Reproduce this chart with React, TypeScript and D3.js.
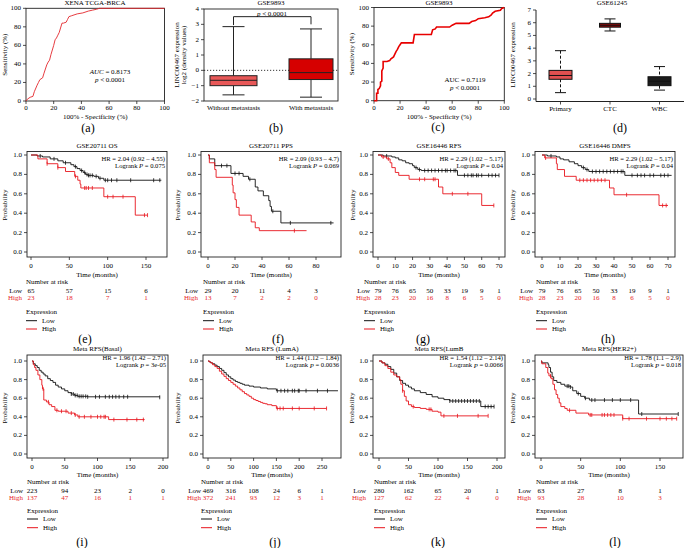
import React from 'react';
import * as d3 from 'd3';

type Pt = [number, number];

const FONT = "'Liberation Serif', 'DejaVu Serif', serif";
const RED = '#e8141c';
const RED_TXT = '#e8262b';

// ---------- (a) ROC XENA TCGA-BRCA ----------
const rocA_fpr = [0, 1, 3, 5, 6, 8, 9, 10, 12, 13, 15, 16, 17, 18, 19, 20, 21, 22, 23, 24, 26, 27, 29, 30, 31, 33, 37, 41, 45, 48, 51, 53, 100];
const rocA_tpr = [0, 2, 4, 5, 10, 17, 20, 23, 25, 30, 39, 42, 44, 50, 55, 60, 66, 68, 71, 74, 84, 84, 85, 88, 91, 92, 94, 95, 97, 98, 99, 100, 100];

// ---------- (c) ROC GSE9893 ----------
const rocC_fpr = [0, 2, 2, 3, 3, 4, 5, 5, 6, 6, 7, 7, 10, 12, 13, 15, 16, 17, 18, 19, 20, 21, 30, 31, 44, 45, 47, 48, 58, 60, 63, 73, 75, 78, 80, 85, 88, 90, 91, 93, 97, 98, 100];
const rocC_tpr = [0, 0, 8, 8, 12, 13, 16, 20, 21, 32, 35, 42, 42, 43, 45, 47, 50, 53, 55, 58, 60, 62, 62, 71, 71, 76, 77, 79, 79, 81, 83, 83, 85, 86, 88, 89, 90, 92, 94, 96, 97, 99, 100];

// ---------- (b) box GSE9893 ----------
const boxB_cats = ['Without metastasis', 'With metastasis'];
const boxB_min = [-1.6, -1.75];
const boxB_q1 = [-1.0, -0.6];
const boxB_med = [-0.65, -0.15];
const boxB_q3 = [-0.35, 0.75];
const boxB_max = [2.85, 2.7];
const boxB_ticks = [-2, -1, 0, 1, 2, 3, 4];

// ---------- (d) box GSE61245 ----------
const boxD_cats = ['Primary', 'CTC', 'WBC'];
const boxD_min = [0.5, 5.35, 0.7];
const boxD_q1 = [1.55, 5.65, 1.05];
const boxD_med = [1.85, 5.8, 1.4];
const boxD_q3 = [2.25, 5.95, 1.75];
const boxD_max = [3.8, 6.3, 2.55];
const boxD_ticks = [0, 1, 2, 3, 4, 5, 6, 7];

// ---------- Kaplan-Meier curves ----------
const eLow: Pt[] = [[0, 1], [8, 0.99], [15, 0.98], [25, 0.96], [35, 0.94], [42, 0.92], [52, 0.9], [56, 0.88], [60, 0.86], [64, 0.84], [68, 0.82], [71, 0.8], [74, 0.79], [82, 0.78], [88, 0.76], [95, 0.74], [170, 0.74]];
const eLowC = [12, 30, 45, 58, 66, 70, 73, 75, 77, 80, 85, 90, 97, 100, 105, 112, 130, 160, 168];
const eHigh: Pt[] = [[0, 1], [9, 0.96], [21, 0.91], [35, 0.87], [45, 0.83], [57, 0.78], [61, 0.74], [64, 0.7], [65, 0.66], [95, 0.57], [136, 0.38], [152, 0.38]];
const eHighC = [21, 35, 58, 70, 72, 75, 80, 100, 107, 120, 148, 152];

const fLow: Pt[] = [[0, 1], [1, 0.96], [5, 0.89], [17, 0.81], [26, 0.78], [30, 0.75], [35, 0.67], [37, 0.63], [41, 0.58], [45, 0.53], [46, 0.47], [47, 0.42], [54, 0.3], [93, 0.3]];
const fLowC = [10, 14, 20, 23, 31, 48, 61, 91];
const fHigh: Pt[] = [[0, 1], [1, 0.92], [5, 0.85], [6, 0.77], [18, 0.69], [18.6, 0.61], [20, 0.54], [21, 0.46], [23, 0.38], [32, 0.31], [35, 0.25], [38, 0.22], [73, 0.22]];
const fHighC = [64];

const gLow: Pt[] = [[0, 1], [3, 0.99], [8, 0.98], [10, 0.97], [12, 0.95], [14, 0.94], [16, 0.92], [18, 0.91], [20, 0.89], [21, 0.87], [23, 0.85], [25, 0.84], [46, 0.79], [70, 0.79]];
const gLowC = [5, 22, 24, 27, 29, 31, 33, 35, 37, 39, 40, 42, 44, 45, 50, 52, 54, 55, 57, 58, 60, 64, 66, 68, 70];
const gHigh: Pt[] = [[0, 1], [2, 0.98], [5, 0.96], [7, 0.92], [8, 0.87], [10, 0.82], [12, 0.79], [18, 0.75], [35, 0.67], [37.5, 0.6], [60, 0.48], [67, 0.48]];
const gHighC = [3, 6, 24, 27, 32, 33, 43, 52, 67];

const hLow: Pt[] = [[0, 1], [3, 0.99], [8, 0.98], [10, 0.96], [12, 0.95], [15, 0.93], [18, 0.91], [20, 0.89], [22, 0.87], [24, 0.85], [26, 0.83], [46, 0.79], [72, 0.79]];
const hLowC = [5, 23, 25, 28, 30, 32, 34, 36, 38, 40, 42, 44, 45, 50, 53, 55, 57, 60, 62, 66, 68, 70];
const hHigh: Pt[] = [[0, 1], [1.5, 0.97], [8, 0.91], [8.5, 0.85], [12.5, 0.78], [19, 0.74], [37.5, 0.66], [40, 0.59], [65, 0.48], [70, 0.48]];
const hHighC = [2, 21, 23, 25, 27, 29, 31, 33, 35, 47, 67, 69];

const iLow: Pt[] = [[0, 1], [2, 0.97], [5, 0.95], [8, 0.93], [11, 0.9], [14, 0.88], [17, 0.86], [20, 0.84], [24, 0.81], [28, 0.79], [32, 0.77], [36, 0.74], [40, 0.72], [45, 0.7], [50, 0.68], [55, 0.66], [60, 0.645], [65, 0.63], [70, 0.62], [85, 0.615], [195, 0.61]];
const iLowC = [60, 63, 66, 69, 72, 75, 78, 82, 85, 97, 103, 112, 118, 123, 128, 133, 140, 146, 195];
const iHigh: Pt[] = [[0, 1], [2, 0.96], [4, 0.93], [6, 0.9], [9, 0.85], [12, 0.8], [15, 0.74], [16, 0.7], [18, 0.58], [22, 0.56], [26, 0.53], [30, 0.51], [35, 0.47], [40, 0.46], [55, 0.44], [65, 0.42], [70, 0.4], [117, 0.37], [172, 0.37]];
const iHighC = [17, 25, 38, 45, 52, 60, 66, 72, 80, 90, 100, 105, 110, 112, 125, 145, 160, 170];

const jLow: Pt[] = [[0, 1], [3, 0.99], [6, 0.98], [10, 0.97], [15, 0.955], [20, 0.94], [25, 0.92], [30, 0.9], [35, 0.875], [40, 0.85], [45, 0.83], [50, 0.81], [55, 0.795], [60, 0.78], [65, 0.77], [70, 0.76], [75, 0.75], [80, 0.74], [90, 0.73], [100, 0.72], [115, 0.71], [130, 0.7], [150, 0.68], [285, 0.68]];
const jLowC = [152, 160, 168, 175, 185, 190, 198, 200, 215, 240, 262];
const jHigh: Pt[] = [[0, 1], [3, 0.99], [6, 0.98], [10, 0.96], [15, 0.94], [20, 0.92], [25, 0.89], [30, 0.86], [35, 0.835], [40, 0.81], [45, 0.79], [50, 0.77], [55, 0.75], [60, 0.73], [65, 0.71], [70, 0.69], [75, 0.67], [80, 0.65], [85, 0.635], [90, 0.62], [95, 0.6], [100, 0.585], [105, 0.575], [110, 0.565], [115, 0.555], [120, 0.545], [125, 0.54], [130, 0.53], [140, 0.52], [149, 0.52], [150, 0.49], [260, 0.49]];
const jHighC = [152, 158, 165, 185, 200, 233, 260];

const kLow: Pt[] = [[0, 1], [5, 0.98], [10, 0.965], [15, 0.94], [20, 0.91], [25, 0.87], [30, 0.83], [35, 0.79], [40, 0.76], [45, 0.74], [50, 0.72], [55, 0.7], [60, 0.68], [70, 0.66], [80, 0.64], [90, 0.615], [100, 0.6], [110, 0.585], [120, 0.57], [172, 0.57], [172.5, 0.51], [195, 0.51]];
const kLowC = [120, 125, 130, 135, 140, 145, 150, 155, 160, 165, 170, 180, 185, 190, 195];
const kHigh: Pt[] = [[0, 1], [5, 0.98], [10, 0.95], [15, 0.92], [20, 0.88], [25, 0.85], [30, 0.83], [35, 0.8], [37, 0.75], [40, 0.68], [43, 0.62], [46, 0.57], [50, 0.53], [55, 0.51], [60, 0.5], [70, 0.49], [80, 0.48], [90, 0.46], [100, 0.45], [105, 0.41], [185, 0.41]];
const kHighC = [40, 58, 85, 88, 110, 133, 168, 185];

const lLow: Pt[] = [[0, 1], [1, 0.98], [9, 0.96], [10, 0.93], [12, 0.88], [14, 0.83], [16, 0.79], [20, 0.77], [25, 0.75], [30, 0.73], [37, 0.72], [40, 0.68], [45, 0.65], [50, 0.62], [55, 0.6], [61, 0.58], [122.5, 0.58], [123, 0.43], [173, 0.43]];
const lLowC = [33, 35, 37, 47, 56, 64, 68, 80, 90, 100, 113, 127, 173];
const lHigh: Pt[] = [[0, 1], [1, 0.97], [6, 0.93], [8.5, 0.87], [10, 0.84], [12.7, 0.81], [15, 0.75], [17, 0.69], [19, 0.64], [21, 0.6], [23, 0.55], [25, 0.51], [30, 0.49], [33, 0.47], [44, 0.44], [60, 0.42], [103, 0.38], [171, 0.38]];
const lHighC = [12, 36, 62, 64, 77, 80, 84, 88, 92, 103, 111, 133, 150, 158, 165, 171];

// number at risk
const eTimes = [0, 50, 100, 150]; const eNLow = [65, 57, 15, 6]; const eNHigh = [23, 18, 7, 1];
const fTimes = [0, 20, 40, 60, 80]; const fNLow = [29, 20, 11, 4, 3]; const fNHigh = [13, 7, 2, 2, 0];
const gTimes = [0, 10, 20, 30, 40, 50, 60, 70]; const gNLow = [79, 76, 65, 50, 33, 19, 9, 1]; const gNHigh = [28, 23, 20, 16, 8, 6, 5, 0];
const hTimes = [0, 10, 20, 30, 40, 50, 60, 70]; const hNLow = [79, 76, 65, 50, 33, 19, 9, 1]; const hNHigh = [28, 23, 20, 16, 8, 6, 5, 0];
const iTimes = [0, 50, 100, 150, 200]; const iNLow = [223, 94, 23, 2, 0]; const iNHigh = [137, 47, 16, 1, 1];
const jTimes = [0, 50, 100, 150, 200, 250]; const jNLow = [469, 316, 108, 24, 6, 1]; const jNHigh = [372, 241, 93, 12, 3, 1];
const kTimes = [0, 50, 100, 150, 200]; const kNLow = [280, 162, 65, 20, 1]; const kNHigh = [127, 62, 22, 4, 0];
const lTimes = [0, 50, 100, 150]; const lNLow = [63, 27, 8, 1]; const lNHigh = [93, 28, 10, 3];

const yTicksKM = [0, 0.2, 0.4, 0.6, 0.8, 1.0];

// ---------- layout (positions only) ----------
const row2 = { fy0: 151.5, fy1: 257, y1px: 155, y0px: 252, title: 146, hr: 158, lr: 165.3, tick: 265.5, time: 274.7, nar: 282, low: 290.7, high: 298.2, expr: 312, legLow: 320.7, legHigh: 329, letter: 339, prob: 205 };
const row3 = { fy0: 355, fy1: 458, y1px: 361, y0px: 454, title: 348.5, hr: 357.8, lr: 364.8, tick: 467, time: 475, nar: 481.7, low: 490.7, high: 498.3, expr: 510.7, legLow: 519, legHigh: 527.7, letter: 542, prob: 408 };

const FS = 7;

const T = (p: any) => {
  const { x, y, size = FS, anchor = 'middle', fill = '#000', rotate, children, italic, weight } = p;
  return (
    <text x={x} y={y} fontSize={size} textAnchor={anchor} dominantBaseline="central" fill={fill}
      fontFamily={FONT} fontStyle={italic ? 'italic' : undefined} fontWeight={weight}
      transform={rotate ? `rotate(${rotate} ${x} ${y})` : undefined}>{children}</text>
  );
};

function stepAt(curve: Pt[], t: number) {
  let s = curve[0][1];
  for (const [tt, ss] of curve) { if (tt <= t) s = ss; else break; }
  return s;
}

// ---------- ROC ----------
function Roc(props: any) {
  const { fpr, tpr, x0, x1, y0, y1, title, titleX, ylabX, auc, aucItalic, aucX, aucY, letter, letterX, letterY, color, sw } = props;
  const xs = d3.scaleLinear().domain([0, 100]).range([x0, x1]);
  const ys = d3.scaleLinear().domain([0, 100]).range([y0, y1]);
  const pts: Pt[] = fpr.map((f: number, i: number) => [f, tpr[i]]);
  const line = d3.line<Pt>().x(d => xs(d[0])).y(d => ys(d[1]));
  const ticks = [0, 20, 40, 60, 80, 100];
  return (
    <g>
      <T x={titleX} y={3}>{title}</T>
      <rect x={x0} y={y1} width={x1 - x0} height={y0 - y1} fill="none" stroke="#222" strokeWidth={0.9} />
      {ticks.map(t => (
        <g key={'x' + t}>
          <line x1={xs(t)} x2={xs(t)} y1={y0} y2={y0 + 3} stroke="#222" strokeWidth={0.8} />
          <T x={xs(t)} y={108}>{t}</T>
          <line x1={x0 - 3} x2={x0} y1={ys(t)} y2={ys(t)} stroke="#222" strokeWidth={0.8} />
          <T x={x0 - 5} y={ys(t)} anchor="end">{t}</T>
        </g>
      ))}
      <path d={line(pts) || ''} fill="none" stroke={color} strokeWidth={sw} />
      <T x={ylabX} y={(y0 + y1) / 2} rotate={-90}>Sensitivity (%)</T>
      <T x={(x0 + x1) / 2} y={117}>100% - Specificity (%)</T>
      <text x={aucX} y={aucY} fontSize={FS} textAnchor="middle" dominantBaseline="central" fontFamily={FONT}>
        <tspan fontStyle={aucItalic ? 'italic' : undefined}>AUC</tspan> = {auc}
      </text>
      <text x={aucX} y={aucY + 8.5} fontSize={FS} textAnchor="middle" dominantBaseline="central" fontFamily={FONT}>
        <tspan fontStyle="italic">p</tspan> {'< 0.0001'}
      </text>
      <T x={letterX} y={letterY} size={12}>{letter}</T>
    </g>
  );
}

// ---------- Box (b) ----------
function BoxB() {
  const x0 = 204, x1 = 338;
  const ys = d3.scaleLinear().domain([-2, 4]).range([101, 9]);
  const centers = [233.5, 311];
  const fills = ['#e85858', '#d60000'];
  const bw = [47, 44];
  return (
    <g>
      <T x={271} y={3}>GSE9893</T>
      <rect x={x0} y={ys(4)} width={x1 - x0} height={ys(-2) - ys(4)} fill="none" stroke="#222" strokeWidth={0.9} />
      {boxB_ticks.map(t => (
        <g key={t}>
          <line x1={x0 - 3} x2={x0} y1={ys(t)} y2={ys(t)} stroke="#222" strokeWidth={0.8} />
          <T x={x0 - 5} y={ys(t)} anchor="end">{t < 0 ? '−' + Math.abs(t) : t}</T>
        </g>
      ))}
      <line x1={x0} x2={x1} y1={ys(0)} y2={ys(0)} stroke="#222" strokeWidth={0.9} strokeDasharray="1.2,1.8" />
      {boxB_cats.map((c, i) => {
        const cx = centers[i], w = bw[i];
        return (
          <g key={c}>
            <line x1={cx} x2={cx} y1={ys(boxB_max[i])} y2={ys(boxB_q3[i])} stroke="#222" strokeWidth={1} />
            <line x1={cx} x2={cx} y1={ys(boxB_q1[i])} y2={ys(boxB_min[i])} stroke="#222" strokeWidth={1} />
            <line x1={cx - 11} x2={cx + 11} y1={ys(boxB_max[i])} y2={ys(boxB_max[i])} stroke="#222" strokeWidth={1} />
            <line x1={cx - 11} x2={cx + 11} y1={ys(boxB_min[i])} y2={ys(boxB_min[i])} stroke="#222" strokeWidth={1} />
            <rect x={cx - w / 2} y={ys(boxB_q3[i])} width={w} height={ys(boxB_q1[i]) - ys(boxB_q3[i])} fill={fills[i]} stroke="#222" strokeWidth={1} />
            <line x1={cx - w / 2} x2={cx + w / 2} y1={ys(boxB_med[i])} y2={ys(boxB_med[i])} stroke="#222" strokeWidth={1} />
            <T x={cx} y={108}>{c}</T>
          </g>
        );
      })}
      <path d={`M${centers[0]},${ys(2.95)}V${ys(3.5)}H${centers[1]}V${ys(3.0)}`} fill="none" stroke="#222" strokeWidth={1} />
      <text x={272} y={14} fontSize={FS} textAnchor="middle" dominantBaseline="central" fontFamily={FONT}>
        <tspan fontStyle="italic">p</tspan> {'< 0.0001'}
      </text>
      <T x={176.5} y={55} rotate={-90}>LINC00467 expression</T>
      <T x={183.5} y={55} rotate={-90}>log2 (density values)</T>
      <T x={276} y={128} size={12}>(b)</T>
    </g>
  );
}

// ---------- Box (d) ----------
function BoxD() {
  const ax = 536, ay = 101.5;
  const ys = d3.scaleLinear().domain([0, 7]).range([99, 10]);
  const xs = d3.scalePoint<string>().domain(boxD_cats).range([560.5, 659.5]);
  const fills = ['#e05050', '#8e0a0a', '#1c1c1c'];
  const widths = [23, 21, 23];
  const dashed = [true, false, true];
  return (
    <g>
      <T x={612} y={3}>GSE61245</T>
      <line x1={ax} x2={ax} y1={ys(7)} y2={ay} stroke="#222" strokeWidth={1} />
      <line x1={ax} x2={684} y1={ay} y2={ay} stroke="#222" strokeWidth={1} />
      {boxD_ticks.map(t => (
        <g key={t}>
          <line x1={ax - 3} x2={ax} y1={ys(t)} y2={ys(t)} stroke="#222" strokeWidth={0.8} />
          <T x={ax - 5} y={ys(t)} anchor="end">{t}</T>
        </g>
      ))}
      {boxD_cats.map((c, i) => {
        const cx = xs(c) as number, w = widths[i];
        const da = dashed[i] ? '3,2' : undefined;
        return (
          <g key={c}>
            <line x1={cx} x2={cx} y1={ay} y2={ay + 3} stroke="#222" strokeWidth={0.8} />
            <line x1={cx} x2={cx} y1={ys(boxD_max[i])} y2={ys(boxD_q3[i])} stroke="#111" strokeWidth={1} strokeDasharray={da} />
            <line x1={cx} x2={cx} y1={ys(boxD_q1[i])} y2={ys(boxD_min[i])} stroke="#111" strokeWidth={1} strokeDasharray={da} />
            <line x1={cx - 5.5} x2={cx + 5.5} y1={ys(boxD_max[i])} y2={ys(boxD_max[i])} stroke="#111" strokeWidth={1} />
            <line x1={cx - 5.5} x2={cx + 5.5} y1={ys(boxD_min[i])} y2={ys(boxD_min[i])} stroke="#111" strokeWidth={1} />
            <rect x={cx - w / 2} y={ys(boxD_q3[i])} width={w} height={ys(boxD_q1[i]) - ys(boxD_q3[i])} fill={fills[i]} stroke="#111" strokeWidth={1} />
            <line x1={cx - w / 2} x2={cx + w / 2} y1={ys(boxD_med[i])} y2={ys(boxD_med[i])} stroke="#111" strokeWidth={1} />
            <T x={cx} y={108.5}>{c}</T>
          </g>
        );
      })}
      <T x={513} y={55} rotate={-90}>LINC00467 expression</T>
      <T x={620} y={128} size={12}>(d)</T>
    </g>
  );
}

// ---------- KM ----------
const kmPanels = [
  { id: 'e', row: row2, title: 'GSE20711 OS', hr: 'HR = 2.04 (0.92 – 4.55)', p: '0.075', low: eLow, lowC: eLowC, high: eHigh, highC: eHighC, times: eTimes, nLow: eNLow, nHigh: eNHigh, pos: { fx0: 27, fx1: 167, x0px: 31, refT: 150, refPx: 146, probX: 5, lh: 22, nar: 26, letterX: 85 } },
  { id: 'f', row: row2, title: 'GSE20711 PPS', hr: 'HR = 2.09 (0.93 – 4.7)', p: '0.069', low: fLow, lowC: fLowC, high: fHigh, highC: fHighC, times: fTimes, nLow: fNLow, nHigh: fNHigh, pos: { fx0: 201, fx1: 341, x0px: 208, refT: 80, refPx: 316, probX: 178, lh: 198, nar: 203, letterX: 278 } },
  { id: 'g', row: row2, title: 'GSE16446 RFS', hr: 'HR = 2.29 (1.02 – 5.17)', p: '0.04', low: gLow, lowC: gLowC, high: gHigh, highC: gHighC, times: gTimes, nLow: gNLow, nHigh: gNHigh, pos: { fx0: 373, fx1: 505, x0px: 378, refT: 70, refPx: 499, probX: 353, lh: 370, nar: 364, letterX: 423 } },
  { id: 'h', row: row2, title: 'GSE16446 DMFS', hr: 'HR = 2.29 (1.02 – 5.17)', p: '0.04', low: hLow, lowC: hLowC, high: hHigh, highC: hHighC, times: hTimes, nLow: hNLow, nHigh: hNHigh, pos: { fx0: 535, fx1: 675, x0px: 542, refT: 70, refPx: 668, probX: 513, lh: 533, nar: 536, letterX: 608 } },
  { id: 'i', row: row3, title: 'Meta RFS(Basal)', hr: 'HR = 1.96 (1.42 – 2.71)', p: '3e-05', low: iLow, lowC: iLowC, high: iHigh, highC: iHighC, times: iTimes, nLow: iNLow, nHigh: iNHigh, pos: { fx0: 27, fx1: 168, x0px: 32, refT: 200, refPx: 163, probX: 5, lh: 23, nar: 27, letterX: 82 } },
  { id: 'j', row: row3, title: 'Meta RFS (LumA)', hr: 'HR = 1.44 (1.12 – 1.84)', p: '0.0036', low: jLow, lowC: jLowC, high: jHigh, highC: jHighC, times: jTimes, nLow: jNLow, nHigh: jNHigh, pos: { fx0: 203, fx1: 341, x0px: 208, refT: 250, refPx: 322, probX: 178, lh: 201, nar: 201, letterX: 275 } },
  { id: 'k', row: row3, title: 'Meta RFS(LumB', hr: 'HR = 1.54 (1.12 – 2.14)', p: '0.0066', low: kLow, lowC: kLowC, high: kHigh, highC: kHighC, times: kTimes, nLow: kNLow, nHigh: kNHigh, pos: { fx0: 373, fx1: 505, x0px: 379, refT: 200, refPx: 497, probX: 352, lh: 366, nar: 374, letterX: 438 } },
  { id: 'l', row: row3, title: 'Meta RFS(HER2+)', hr: 'HR = 1.78 (1.1 – 2.9)', p: '0.018', low: lLow, lowC: lLowC, high: lHigh, highC: lHighC, times: lTimes, nLow: lNLow, nHigh: lNHigh, pos: { fx0: 535, fx1: 683, x0px: 541, refT: 150, refPx: 660, probX: 513, lh: 531, nar: 536, letterX: 615 } },
];

function KM({ cfg }: any) {
  const { row, pos } = cfg;
  const xs = d3.scaleLinear().domain([0, pos.refT]).range([pos.x0px, pos.refPx]);
  const ys = d3.scaleLinear().domain([0, 1]).range([row.y0px, row.y1px]);
  const line = d3.line<Pt>().x(d => xs(d[0])).y(d => ys(d[1])).curve(d3.curveStepAfter);
  const cx = (pos.fx0 + pos.fx1) / 2;
  const censor = (curve: Pt[], times: number[], color: string) =>
    times.map((t, k) => {
      const y = ys(stepAt(curve, t));
      return <line key={k} x1={xs(t)} x2={xs(t)} y1={y - 2} y2={y + 2} stroke={color} strokeWidth={0.8} />;
    });
  return (
    <g>
      <T x={cx} y={row.title}>{cfg.title}</T>
      <rect x={pos.fx0} y={row.fy0} width={pos.fx1 - pos.fx0} height={row.fy1 - row.fy0} fill="none" stroke="#222" strokeWidth={0.9} />
      {yTicksKM.map(t => (
        <g key={'y' + t}>
          <line x1={pos.fx0 - 3} x2={pos.fx0} y1={ys(t)} y2={ys(t)} stroke="#222" strokeWidth={0.8} />
          <T x={pos.fx0 - 5} y={ys(t)} anchor="end">{t.toFixed(1)}</T>
        </g>
      ))}
      {cfg.times.map((t: number) => (
        <g key={'x' + t}>
          <line x1={xs(t)} x2={xs(t)} y1={row.fy1} y2={row.fy1 + 3} stroke="#222" strokeWidth={0.8} />
          <T x={xs(t)} y={row.tick}>{t}</T>
        </g>
      ))}
      <path d={line(cfg.low) || ''} fill="none" stroke="#111" strokeWidth={0.9} />
      {censor(cfg.low, cfg.lowC, '#111')}
      <path d={line(cfg.high) || ''} fill="none" stroke={RED} strokeWidth={0.9} />
      {censor(cfg.high, cfg.highC, RED)}
      <T x={pos.fx1 - 2} y={row.hr} anchor="end" size={6.6}>{cfg.hr}</T>
      <text x={pos.fx1 - 2} y={row.lr} fontSize={6.6} textAnchor="end" dominantBaseline="central" fontFamily={FONT}>
        Logrank <tspan fontStyle="italic">P</tspan> = {cfg.p}
      </text>
      <T x={pos.probX} y={row.prob} rotate={-90}>Probability</T>
      <T x={cx} y={row.time}>Time (months)</T>
      <T x={pos.nar} y={row.nar} anchor="start">Number at risk</T>
      <T x={pos.lh} y={row.low} anchor="end">Low</T>
      <T x={pos.lh} y={row.high} anchor="end" fill={RED_TXT}>High</T>
      {cfg.times.map((t: number, k: number) => (
        <g key={'n' + t}>
          <T x={xs(t)} y={row.low}>{cfg.nLow[k]}</T>
          <T x={xs(t)} y={row.high} fill={RED_TXT}>{cfg.nHigh[k]}</T>
        </g>
      ))}
      <T x={pos.nar} y={row.expr} anchor="start">Expression</T>
      <line x1={pos.nar} x2={pos.nar + 11} y1={row.legLow} y2={row.legLow} stroke="#111" strokeWidth={1} />
      <T x={pos.nar + 16} y={row.legLow} anchor="start">Low</T>
      <line x1={pos.nar} x2={pos.nar + 11} y1={row.legHigh} y2={row.legHigh} stroke={RED} strokeWidth={1} />
      <T x={pos.nar + 16} y={row.legHigh} anchor="start">High</T>
      <T x={pos.letterX} y={row.letter} size={12}>{'(' + cfg.id + ')'}</T>
    </g>
  );
}

export default function App() {
  return (
    <svg width={684} height={548} style={{ position: 'absolute', left: 0, top: 0 }}>
      <rect width={684} height={548} fill="#fff" />
      <Roc fpr={rocA_fpr} tpr={rocA_tpr} x0={26} x1={164.5} y0={101} y1={8.3} title="XENA TCGA-BRCA" titleX={95}
        ylabX={5} auc="0.8173" aucItalic aucX={110} aucY={71.5} letter="(a)" letterX={88} letterY={128} color="#e3262b" sw={0.9} />
      <BoxB />
      <Roc fpr={rocC_fpr} tpr={rocC_tpr} x0={374} x1={504.3} y0={100.7} y1={7.5} title="GSE9893" titleX={439}
        ylabX={352} auc="0.7119" aucX={465} aucY={79.5} letter="(c)" letterX={438} letterY={127} color="#e80000" sw={1.6} />
      <BoxD />
      {kmPanels.map(p => <KM key={p.id} cfg={p} />)}
    </svg>
  );
}
